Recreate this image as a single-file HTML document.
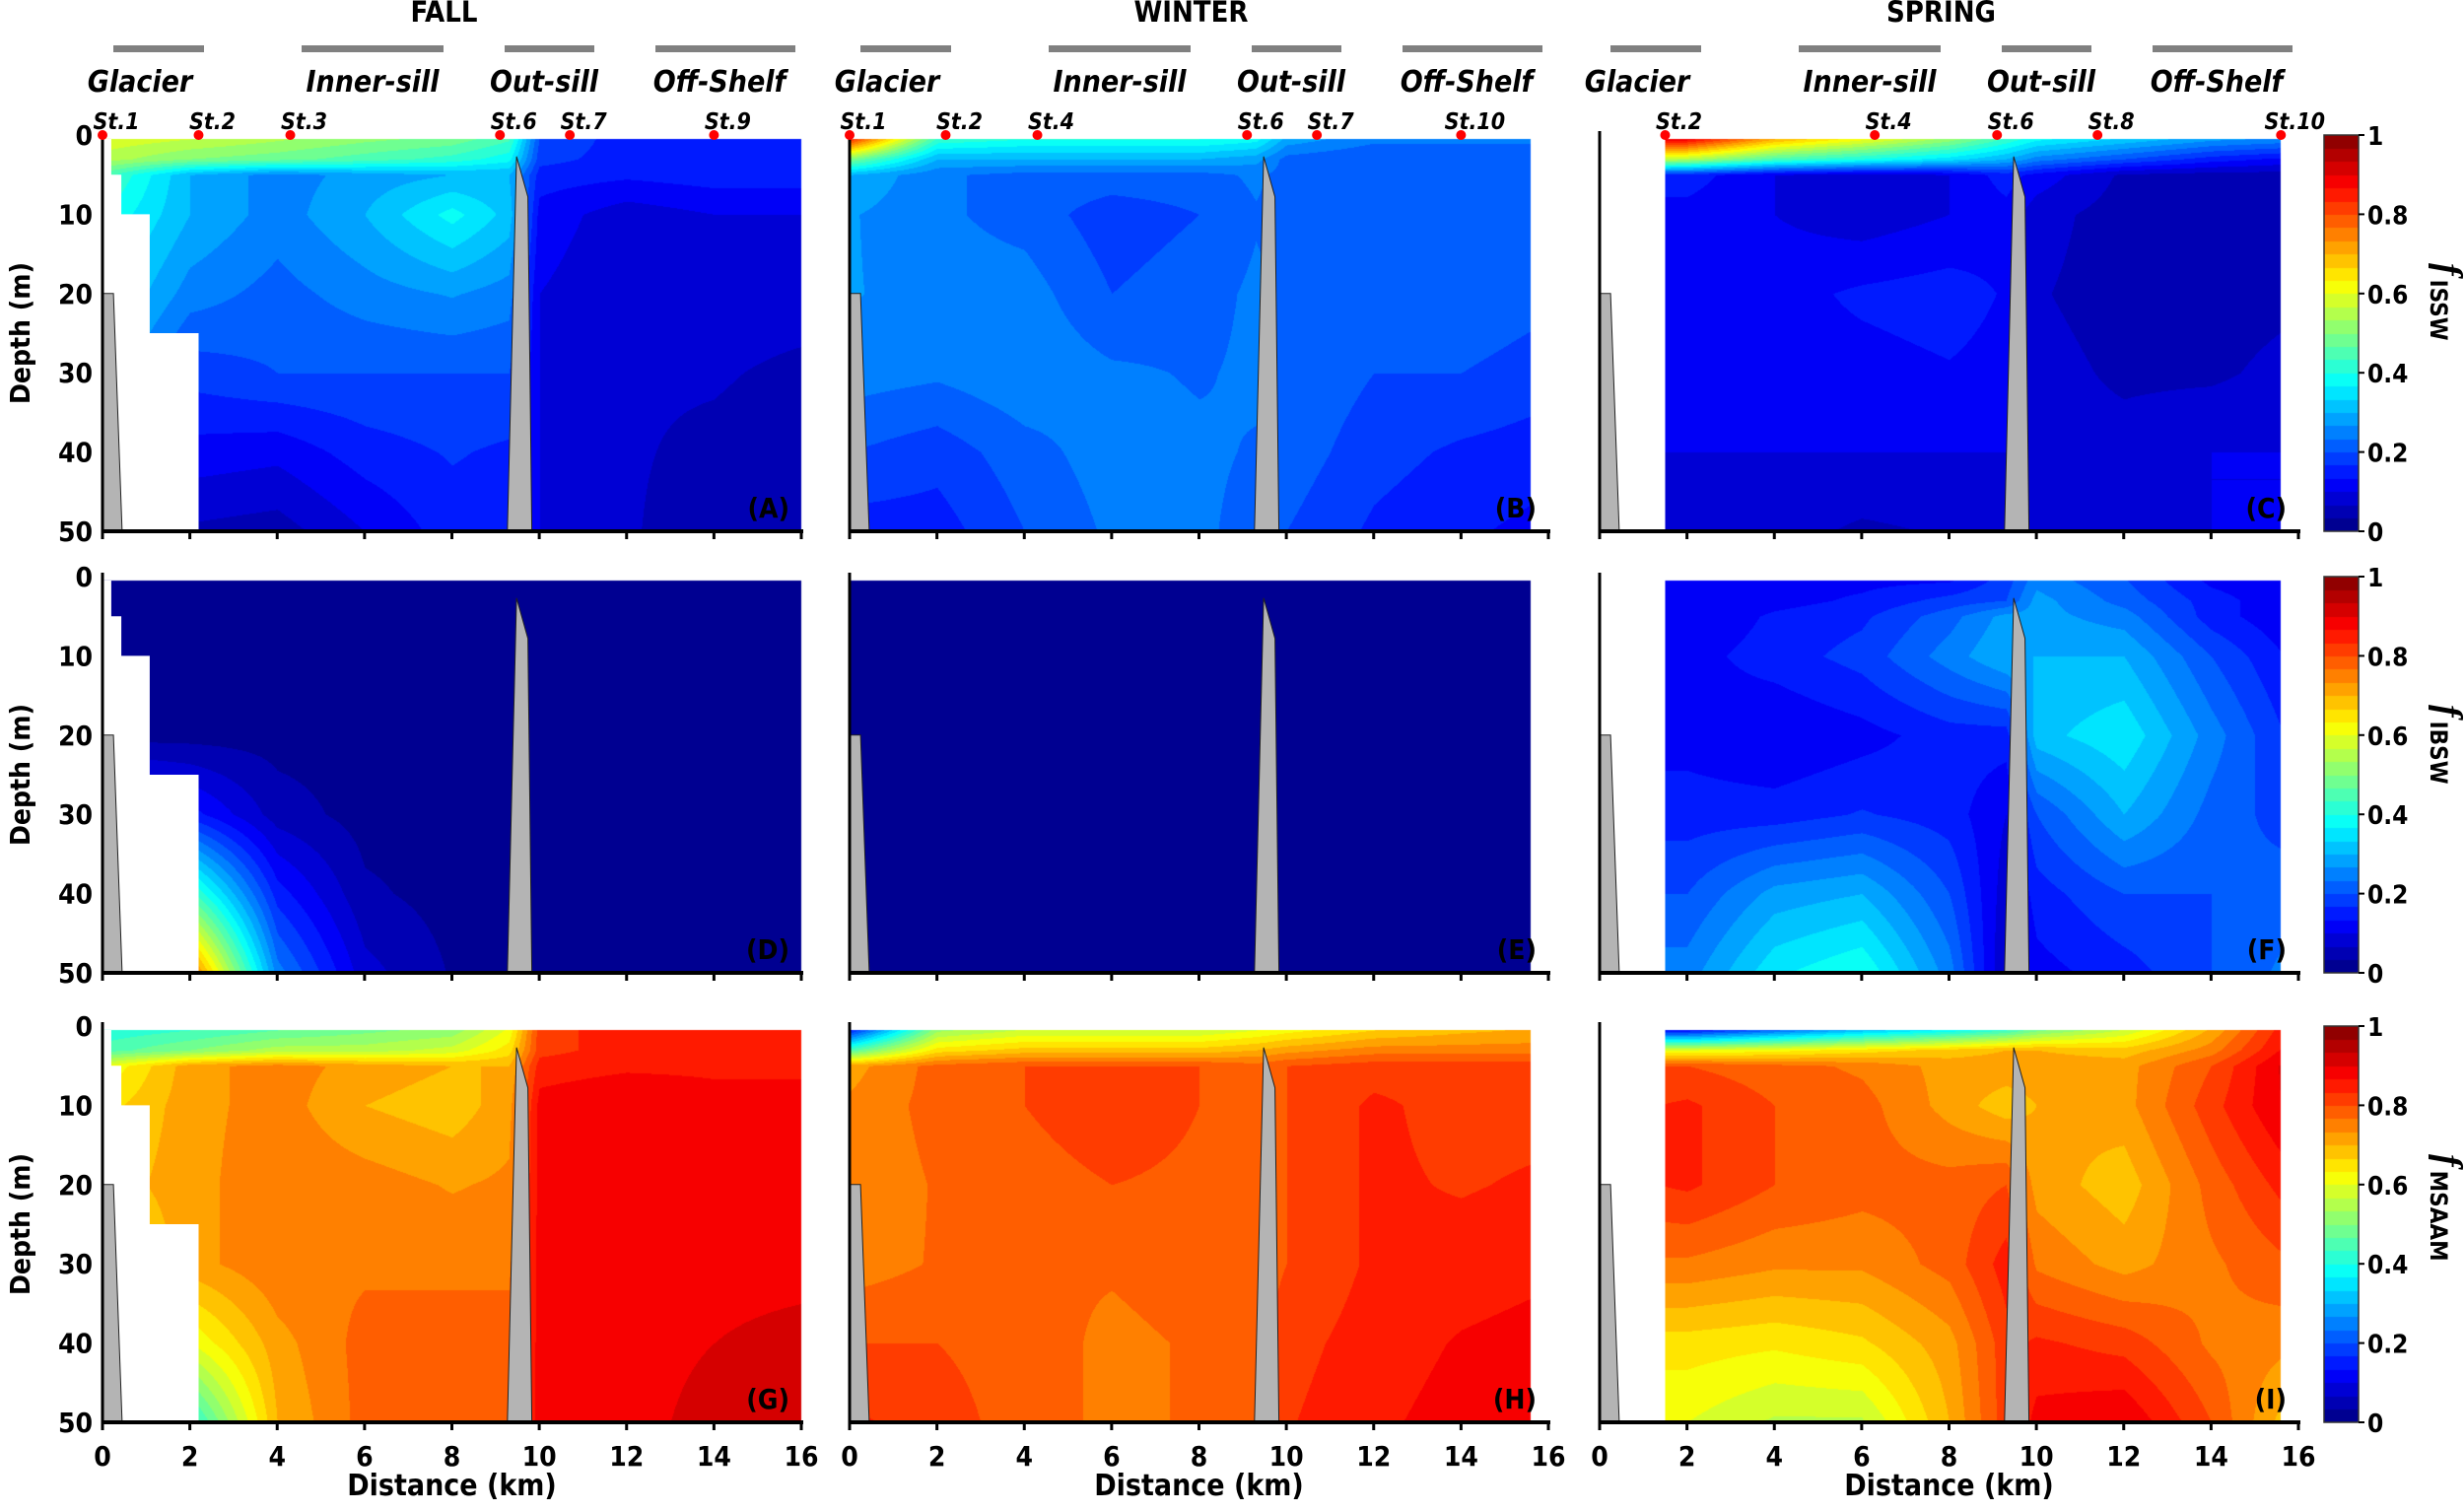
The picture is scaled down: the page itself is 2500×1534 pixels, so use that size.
<!DOCTYPE html>
<html><head><meta charset="utf-8">
<style>
html,body{margin:0;padding:0;background:#fff;}
#wrap{position:relative;width:2500px;height:1534px;overflow:hidden;}
canvas,svg{position:absolute;left:0;top:0;}
text{font-family:"DejaVu Sans Condensed","DejaVu Sans","Liberation Sans",sans-serif;font-weight:bold;}
</style></head>
<body>
<div id="wrap">
<canvas id="cv" width="2500" height="1534"></canvas>
<svg id="sv" width="2500" height="1534" xmlns="http://www.w3.org/2000/svg"></svg>
</div>
<script>
// ---- data ----
const xNodes=[0,2,4,6,8,9.3,10,12,14,16];
const depthNodes=[0,3,5,10,20,30,40,50];
const seasons=["FALL","WINTER","SPRING"];
const cbarTicks=[0,0.2,0.4,0.6,0.8,1];
const xTicks=[0,2,4,6,8,10,12,14,16];
const yTicks=[0,10,20,30,40,50];
const stationsFall=[["St.1",0],["St.2",2.2],["St.3",4.3],["St.6",9.1],["St.7",10.7],["St.9",14]];
const stationsWinter=[["St.1",0],["St.2",2.2],["St.4",4.3],["St.6",9.1],["St.7",10.7],["St.10",14]];
const stationsSpring=[["St.2",1.5],["St.4",6.3],["St.6",9.1],["St.8",11.4],["St.10",15.6]];
const fieldA=[[0.6,0.58,0.55,0.52,0.5,0.45,0.2,0.15,0.15,0.15],[0.55,0.5,0.48,0.45,0.42,0.38,0.18,0.15,0.15,0.15],[0.45,0.3,0.25,0.28,0.3,0.3,0.15,0.14,0.15,0.15],[0.4,0.3,0.25,0.3,0.38,0.32,0.12,0.08,0.1,0.1],[0.35,0.25,0.22,0.25,0.27,0.25,0.1,0.07,0.08,0.08],[0.3,0.18,0.2,0.2,0.2,0.2,0.1,0.07,0.07,0.06],[0.2,0.12,0.11,0.15,0.17,0.16,0.1,0.07,0.06,0.05],[0.15,0.06,0.05,0.1,0.15,0.15,0.1,0.07,0.05,0.04]];
const fieldB=[[0.9,0.45,0.42,0.42,0.42,0.4,0.3,0.25,0.25,0.25],[0.5,0.3,0.3,0.3,0.3,0.28,0.22,0.2,0.2,0.2],[0.3,0.24,0.22,0.22,0.22,0.24,0.22,0.2,0.2,0.2],[0.27,0.24,0.22,0.18,0.2,0.23,0.22,0.2,0.22,0.22],[0.27,0.25,0.25,0.2,0.22,0.24,0.23,0.2,0.23,0.21],[0.25,0.24,0.26,0.24,0.23,0.24,0.23,0.2,0.2,0.18],[0.2,0.18,0.22,0.25,0.24,0.23,0.22,0.18,0.16,0.15],[0.15,0.15,0.2,0.24,0.24,0.22,0.2,0.16,0.14,0.12]];
const fieldC=[[0.95,0.95,0.75,0.65,0.55,0.45,0.4,0.35,0.3,0.28],[0.6,0.55,0.45,0.4,0.35,0.3,0.25,0.2,0.15,0.12],[0.15,0.15,0.1,0.08,0.1,0.15,0.12,0.06,0.05,0.05],[0.12,0.12,0.1,0.08,0.1,0.12,0.08,0.05,0.05,0.05],[0.13,0.13,0.12,0.14,0.15,0.13,0.07,0.05,0.05,0.06],[0.12,0.12,0.12,0.12,0.13,0.12,0.08,0.06,0.06,0.08],[0.1,0.1,0.1,0.1,0.1,0.1,0.08,0.08,0.1,0.1],[0.08,0.08,0.08,0.06,0.07,0.08,0.07,0.08,0.1,0.1]];
const fieldD=[[0.02,0.02,0.02,0.02,0.02,0.02,0.02,0.02,0.02,0.02],[0.02,0.02,0.02,0.02,0.02,0.02,0.02,0.02,0.02,0.02],[0.02,0.02,0.02,0.02,0.02,0.02,0.02,0.02,0.02,0.02],[0.02,0.02,0.02,0.02,0.02,0.02,0.02,0.02,0.02,0.02],[0.02,0.02,0.02,0.02,0.02,0.02,0.02,0.02,0.02,0.02],[0.2,0.15,0.05,0.02,0.02,0.02,0.02,0.02,0.02,0.02],[0.5,0.45,0.15,0.04,0.02,0.02,0.02,0.02,0.02,0.02],[0.8,0.78,0.25,0.08,0.03,0.02,0.02,0.02,0.02,0.02]];
const fieldE=[[0.02,0.02,0.02,0.02,0.02,0.02,0.02,0.02,0.02,0.02],[0.02,0.02,0.02,0.02,0.02,0.02,0.02,0.02,0.02,0.02],[0.02,0.02,0.02,0.02,0.02,0.02,0.02,0.02,0.02,0.02],[0.02,0.02,0.02,0.02,0.02,0.02,0.02,0.02,0.02,0.02],[0.02,0.02,0.02,0.02,0.02,0.02,0.02,0.02,0.02,0.02],[0.02,0.02,0.02,0.02,0.02,0.02,0.02,0.02,0.02,0.02],[0.02,0.02,0.02,0.02,0.02,0.02,0.02,0.02,0.02,0.02],[0.02,0.02,0.02,0.02,0.02,0.02,0.02,0.02,0.02,0.02]];
const fieldF=[[0.1,0.1,0.12,0.12,0.12,0.18,0.25,0.2,0.12,0.1],[0.1,0.1,0.12,0.14,0.18,0.2,0.28,0.22,0.15,0.1],[0.1,0.1,0.14,0.16,0.22,0.28,0.28,0.25,0.15,0.1],[0.12,0.12,0.15,0.18,0.25,0.3,0.3,0.3,0.2,0.12],[0.12,0.12,0.1,0.12,0.15,0.15,0.32,0.36,0.25,0.15],[0.15,0.15,0.15,0.17,0.15,0.1,0.2,0.3,0.22,0.18],[0.2,0.2,0.28,0.3,0.2,0.08,0.15,0.2,0.2,0.22],[0.25,0.25,0.36,0.4,0.25,0.06,0.12,0.15,0.2,0.25]];
const fieldG=[[0.4,0.42,0.45,0.48,0.5,0.6,0.82,0.85,0.85,0.85],[0.45,0.5,0.55,0.55,0.58,0.65,0.82,0.85,0.85,0.85],[0.6,0.72,0.75,0.72,0.7,0.7,0.85,0.86,0.86,0.86],[0.65,0.72,0.75,0.7,0.68,0.72,0.88,0.9,0.88,0.88],[0.68,0.72,0.76,0.75,0.73,0.74,0.88,0.9,0.88,0.88],[0.62,0.72,0.76,0.76,0.76,0.76,0.88,0.9,0.89,0.89],[0.45,0.6,0.72,0.78,0.78,0.78,0.88,0.89,0.9,0.91],[0.3,0.4,0.7,0.78,0.78,0.8,0.88,0.89,0.91,0.92]];
const fieldH=[[0.1,0.5,0.55,0.55,0.55,0.58,0.6,0.65,0.68,0.7],[0.45,0.65,0.68,0.68,0.68,0.7,0.72,0.75,0.75,0.75],[0.72,0.78,0.8,0.8,0.8,0.78,0.8,0.82,0.82,0.82],[0.74,0.78,0.8,0.83,0.8,0.78,0.8,0.84,0.82,0.82],[0.74,0.77,0.78,0.8,0.79,0.78,0.8,0.84,0.83,0.84],[0.75,0.77,0.77,0.77,0.78,0.78,0.8,0.84,0.85,0.86],[0.8,0.8,0.78,0.76,0.77,0.79,0.82,0.85,0.87,0.88],[0.84,0.82,0.78,0.76,0.77,0.8,0.83,0.86,0.88,0.9]];
const fieldI=[[0.05,0.05,0.15,0.25,0.32,0.38,0.45,0.55,0.7,0.88],[0.6,0.6,0.62,0.65,0.68,0.7,0.7,0.68,0.75,0.9],[0.8,0.8,0.78,0.76,0.72,0.72,0.72,0.72,0.8,0.93],[0.82,0.84,0.8,0.78,0.72,0.68,0.7,0.72,0.82,0.92],[0.82,0.84,0.8,0.78,0.78,0.8,0.72,0.68,0.78,0.86],[0.76,0.76,0.74,0.74,0.78,0.85,0.76,0.72,0.76,0.8],[0.65,0.65,0.64,0.66,0.72,0.82,0.84,0.82,0.76,0.74],[0.6,0.6,0.56,0.56,0.7,0.82,0.88,0.9,0.8,0.66]];

// ---- layout ----
const colX0=[104,862,1623], PW=709;
const rowY0=[137,585,1041], PH=402;
const fields=[[fieldA,fieldB,fieldC],[fieldD,fieldE,fieldF],[fieldG,fieldH,fieldI]];
const letters=[["(A)","(B)","(C)"],["(D)","(E)","(F)"],["(G)","(H)","(I)"]];
const cbNames=["ISSW","IBSW","MSAAM"];
const dataXmin=[0,0,1.5], dataXmax=[16,15.6,15.6];

function jet(v){v=Math.max(0,Math.min(1,v));
 const c=t=>Math.round(255*Math.max(0,Math.min(1,t)));
 return [c(1.5-Math.abs(4*v-3)),c(1.5-Math.abs(4*v-2)),c(1.5-Math.abs(4*v-1))];}
function quant(v){const n=30;let q=Math.floor(v*n);if(q>=n)q=n-1;if(q<0)q=0;return (q+0.5)/n;}
function seg(arr,v){for(let i=0;i<arr.length-1;i++){if(v<=arr[i+1])return [i,(v-arr[i])/(arr[i+1]-arr[i])];}return [arr.length-2,1];}
function sample(f,x,d){const [i,tx]=seg(xNodes,x);const [j,ty]=seg(depthNodes,d);
 const a=f[j][i],b=f[j][i+1],c=f[j+1][i],e=f[j+1][i+1];
 return (a*(1-tx)+b*tx)*(1-ty)+(c*(1-tx)+e*tx)*ty;}

const cv=document.getElementById('cv');const ctx=cv.getContext('2d');
const img=ctx.createImageData(2500,1534);
function put(px,py,rgb){const k=(py*2500+px)*4;img.data[k]=rgb[0];img.data[k+1]=rgb[1];img.data[k+2]=rgb[2];img.data[k+3]=255;}
for(let k=0;k<img.data.length;k+=4){img.data[k]=255;img.data[k+1]=255;img.data[k+2]=255;img.data[k+3]=255;}
for(let r=0;r<3;r++)for(let c=0;c<3;c++){
 const f=fields[r][c];const x0=colX0[c],y0=rowY0[r];
 const pxA=Math.round(x0+dataXmin[c]/16*PW), pxB=Math.round(x0+dataXmax[c]/16*PW);
 const pyA=Math.round(y0+0.5/50*PH), pyB=y0+PH;
 for(let py=pyA;py<pyB;py++){const d=(py-y0)/PH*50;
  for(let px=pxA;px<pxB;px++){const x=(px-x0)/PW*16;put(px,py,jet(quant(sample(f,x,d))));}}
}
for(let r=0;r<3;r++){for(let py=rowY0[r];py<rowY0[r]+PH;py++){const v=1-(py-rowY0[r])/PH;const rgb=jet(quant(v));for(let px=2358;px<2393;px++)put(px,py,rgb);}}
ctx.putImageData(img,0,0);

// ---- SVG overlay ----
const NS="http://www.w3.org/2000/svg";const sv=document.getElementById('sv');
function el(tag,attrs,txt){const e=document.createElementNS(NS,tag);for(const k in attrs)e.setAttribute(k,attrs[k]);if(txt!==undefined)e.textContent=txt;sv.appendChild(e);return e;}
const X=(c,x)=>colX0[c]+x/16*PW, Y=(r,d)=>rowY0[r]+d/50*PH;
const pts=(c,r,arr)=>arr.map(p=>X(c,p[0]).toFixed(1)+","+Y(r,p[1]).toFixed(1)).join(" ");

for(let r=0;r<3;r++)for(let c=0;c<3;c++){
 let m;
 if(c===0){m=el('polygon',{points:pts(c,r,[[0,0.5],[0.2,0.5],[0.2,5],[0.43,5],[0.43,10],[1.08,10],[1.08,25],[2.2,25],[2.2,50],[0,50]]),fill:'#fff'});}
 else if(c===2){m=el('polygon',{points:pts(c,r,[[0,0],[1.5,0],[1.5,50],[0,50]]),fill:'#fff'});}
 if(m){}
 const g=el('polygon',{points:pts(c,r,[[0,20],[0.25,20],[0.45,50],[0,50]]),fill:'#b4b4b4',stroke:'#222','stroke-width':1});
 
 const s=el('polygon',{points:pts(c,r,[[9.27,50],[9.48,2.7],[9.74,7.8],[9.83,50]]),fill:'#b4b4b4',stroke:'#222','stroke-width':1});
 
 const ya=el('line',{x1:X(c,0),y1:Y(r,0)-4,x2:X(c,0),y2:Y(r,50),stroke:'#000','stroke-width':3});
 
 const xa=el('line',{x1:X(c,0),y1:Y(r,50),x2:X(c,16)+2,y2:Y(r,50),stroke:'#000','stroke-width':4});
 
 for(const t of xTicks){const tk=el('line',{x1:X(c,t),y1:Y(r,50),x2:X(c,t),y2:Y(r,50)+8,stroke:'#000','stroke-width':3});
  
  if(r===2){const tl=el('text',{x:X(c,t),y:Y(r,50)+44,'font-size':28,'text-anchor':'middle'},String(t));
   }}
 if(c===0){for(const t of yTicks){const yl=el('text',{x:X(c,0)-10,y:Y(r,t)+10,'font-size':28,'text-anchor':'end'},String(t));
   }
  const yt=el('text',{x:0,y:0,'font-size':28,'text-anchor':'middle',transform:`translate(30,${Y(r,25)}) rotate(-90)`},'Depth (m)');
  }
 const pl=el('text',{x:X(c,16)-12,y:Y(r,50)-14,'font-size':28,'text-anchor':'end'},letters[r][c]);
 
 if(r===2){const xt=el('text',{x:X(c,8),y:1517,'font-size':30,'text-anchor':'middle'},'Distance (km)');
  }
}
const regions=[["Glacier",115,207,142],["Inner-sill",306,450,378],["Out-sill",512,603,552],["Off-Shelf",665,807,730]];
const stationSets=[stationsFall,stationsWinter,stationsSpring];
for(let c=0;c<3;c++){const off=colX0[c]-colX0[0];
 const st=el('text',{x:X(c,8)-8,y:22,'font-size':29,'text-anchor':'middle'},seasons[c]);
 
 for(const rg of regions){const b=el('rect',{x:rg[1]+off,y:46,width:rg[2]-rg[1],height:7,fill:'#808080'});
  
  const t=el('text',{x:rg[3]+off,y:93,'font-size':30,'text-anchor':'middle','font-style':'italic'},rg[0]);
  }
 for(const s of stationSets[c]){const dot=el('circle',{cx:X(c,s[1]),cy:Y(0,0),r:5,fill:'#ff0000'});
  
  const tl=el('text',{x:X(c,s[1])+14,y:131,'font-size':23,'text-anchor':'middle','font-style':'italic'},s[0]);
  }
}
for(let r=0;r<3;r++){const fr=el('rect',{x:2358,y:rowY0[r],width:35,height:PH,fill:'none',stroke:'#333','stroke-width':1.5});
 
 for(const t of cbarTicks){const yy=rowY0[r]+(1-t)*PH;
  const tk=el('line',{x1:2393,y1:yy,x2:2399,y2:yy,stroke:'#000','stroke-width':2});
  
  const tl=el('text',{x:2402,y:yy+10,'font-size':26},String(t));
  }
 const ct=el('text',{x:0,y:0,'font-size':28,transform:`translate(2472,${rowY0[r]+130}) rotate(90)`});
 
 const f=document.createElementNS(NS,'tspan');f.setAttribute('font-family','Liberation Serif, serif');f.setAttribute('font-style','italic');f.setAttribute('font-size','38');f.textContent='f';ct.appendChild(f);
 const sb=document.createElementNS(NS,'tspan');sb.setAttribute('dy','6');sb.setAttribute('dx','4');sb.setAttribute('font-size','24');sb.textContent=cbNames[r];ct.appendChild(sb);
}
</script>
</body></html>
